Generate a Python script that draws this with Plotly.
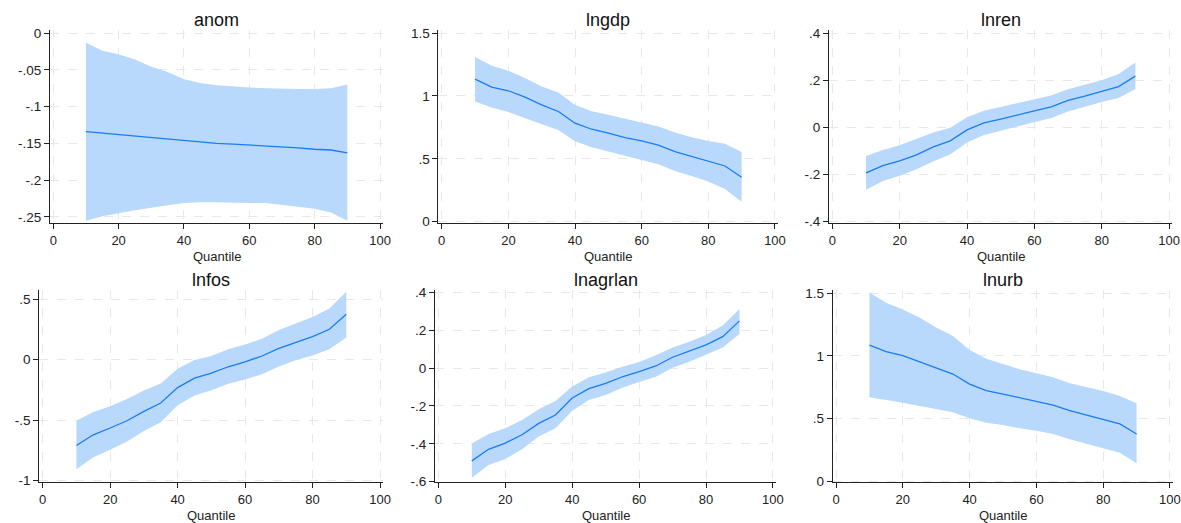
import plotly.graph_objects as go

W, H = 1181, 523

quantiles = [10, 15, 20, 25, 30, 35, 40, 45, 50, 55, 60, 65, 70, 75, 80, 85, 90]

names = ["anom", "lngdp", "lnren", "lnfos", "lnagrlan", "lnurb"]

anom_coef = [-0.134, -0.136, -0.138, -0.140, -0.142, -0.144, -0.147, -0.149, -0.150, -0.151, -0.152, -0.153, -0.155, -0.156, -0.158, -0.159, -0.163]
anom_hi = [-0.013, -0.024, -0.029, -0.036, -0.046, -0.053, -0.063, -0.068, -0.071, -0.073, -0.074, -0.075, -0.076, -0.076, -0.076, -0.075, -0.070]
anom_lo = [-0.255, -0.249, -0.245, -0.241, -0.237, -0.234, -0.231, -0.230, -0.230, -0.230, -0.231, -0.231, -0.233, -0.236, -0.239, -0.244, -0.255]

lngdp_coef = [1.134, 1.070, 1.041, 0.990, 0.929, 0.876, 0.783, 0.735, 0.704, 0.669, 0.642, 0.608, 0.558, 0.518, 0.483, 0.443, 0.353]
lngdp_hi = [1.309, 1.240, 1.200, 1.142, 1.075, 1.027, 0.927, 0.879, 0.850, 0.818, 0.788, 0.757, 0.709, 0.672, 0.642, 0.619, 0.555]
lngdp_lo = [0.956, 0.908, 0.873, 0.826, 0.775, 0.730, 0.640, 0.592, 0.558, 0.520, 0.491, 0.457, 0.404, 0.364, 0.319, 0.260, 0.159]

lnren_coef = [-0.193, -0.162, -0.142, -0.117, -0.083, -0.057, -0.011, 0.019, 0.035, 0.054, 0.070, 0.087, 0.114, 0.132, 0.152, 0.173, 0.217]
lnren_hi = [-0.121, -0.096, -0.076, -0.050, -0.022, -0.002, 0.043, 0.070, 0.086, 0.103, 0.118, 0.135, 0.162, 0.181, 0.200, 0.226, 0.275]
lnren_lo = [-0.265, -0.227, -0.205, -0.178, -0.144, -0.115, -0.064, -0.032, -0.014, 0.006, 0.023, 0.040, 0.067, 0.087, 0.107, 0.124, 0.163]

lnfos_coef = [-0.709, -0.621, -0.565, -0.505, -0.427, -0.358, -0.231, -0.153, -0.112, -0.059, -0.018, 0.030, 0.093, 0.143, 0.190, 0.251, 0.375]
lnfos_hi = [-0.505, -0.433, -0.386, -0.325, -0.256, -0.197, -0.076, -0.004, 0.030, 0.085, 0.124, 0.173, 0.245, 0.301, 0.351, 0.423, 0.561]
lnfos_lo = [-0.906, -0.806, -0.745, -0.676, -0.590, -0.518, -0.377, -0.297, -0.253, -0.200, -0.164, -0.120, -0.056, -0.006, 0.035, 0.085, 0.182]

lnagrlan_coef = [-0.490, -0.429, -0.396, -0.352, -0.292, -0.248, -0.158, -0.109, -0.081, -0.046, -0.019, 0.011, 0.057, 0.088, 0.122, 0.166, 0.249]
lnagrlan_hi = [-0.398, -0.348, -0.318, -0.274, -0.218, -0.174, -0.098, -0.049, -0.024, 0.007, 0.032, 0.067, 0.108, 0.139, 0.175, 0.224, 0.312]
lnagrlan_lo = [-0.579, -0.512, -0.480, -0.429, -0.362, -0.318, -0.225, -0.169, -0.142, -0.104, -0.074, -0.046, 0.002, 0.033, 0.072, 0.109, 0.180]

lnurb_coef = [1.087, 1.034, 1.002, 0.954, 0.901, 0.855, 0.775, 0.722, 0.695, 0.666, 0.642, 0.607, 0.562, 0.528, 0.496, 0.456, 0.376]
lnurb_hi = [1.508, 1.425, 1.372, 1.308, 1.228, 1.159, 1.047, 0.978, 0.935, 0.893, 0.861, 0.829, 0.781, 0.749, 0.719, 0.679, 0.621]
lnurb_lo = [0.669, 0.647, 0.626, 0.602, 0.575, 0.549, 0.501, 0.466, 0.448, 0.421, 0.402, 0.376, 0.333, 0.296, 0.261, 0.226, 0.141]

coefs = [anom_coef, lngdp_coef, lnren_coef, lnfos_coef, lnagrlan_coef, lnurb_coef]
his = [anom_hi, lngdp_hi, lnren_hi, lnfos_hi, lnagrlan_hi, lnurb_hi]
los = [anom_lo, lngdp_lo, lnren_lo, lnfos_lo, lnagrlan_lo, lnurb_lo]

x_ticks = [0, 20, 40, 60, 80, 100]
x_ticktext = ["0", "20", "40", "60", "80", "100"]

y_tickvals = [
    [0, -0.05, -0.1, -0.15, -0.2, -0.25],
    [0, 0.5, 1, 1.5],
    [-0.4, -0.2, 0, 0.2, 0.4],
    [-1, -0.5, 0, 0.5],
    [-0.6, -0.4, -0.2, 0, 0.2, 0.4],
    [0, 0.5, 1, 1.5],
]
y_ticktext = [
    ["0", "-.05", "-.1", "-.15", "-.2", "-.25"],
    ["0", ".5", "1", "1.5"],
    ["-.4", "-.2", "0", ".2", ".4"],
    ["-1", "-.5", "0", ".5"],
    ["-.6", "-.4", "-.2", "0", ".2", ".4"],
    ["0", ".5", "1", "1.5"],
]
y_ranges = [
    [-0.2582, 0.0041],
    [-0.0103, 1.524],
    [-0.4055, 0.4127],
    [-1.0108, 0.575],
    [-0.6016, 0.412],
    [-0.008, 1.527],
]

# panel boxes in screen pixels: (left, right, top, bottom)
boxes = [
    (50.0, 383.3, 30, 223),
    (438.4, 778.3, 30, 223),
    (829.0, 1172.4, 30, 223),
    (39.3, 383.4, 290, 482),
    (435.0, 776.3, 290, 482),
    (832.7, 1173.3, 290, 482),
]

BAND = "#b8d8fc"
LINE = "#1a7cf5"
GRID = "#e8e8e8"
AX = "#222222"
FONT = "Liberation Sans, Arial, sans-serif"


def px_x(p):
    return p / W


def px_y(p):
    return 1 - p / H


fig = go.Figure()
layout = dict(
    width=W, height=H,
    margin=dict(l=0, r=0, t=0, b=0, autoexpand=False),
    paper_bgcolor="white", plot_bgcolor="white",
    showlegend=False,
    font=dict(family=FONT, size=13, color="#222222"),
)
annotations = []

for i in range(6):
    k = "" if i == 0 else str(i + 1)
    xa, ya = "x" + k, "y" + k
    l, r, t, b = boxes[i]
    layout["xaxis" + k] = dict(
        domain=[px_x(l), px_x(r)], anchor=ya, range=[-1, 101],
        tickvals=x_ticks, ticktext=x_ticktext,
        showgrid=True, gridcolor=GRID, griddash="dash", gridwidth=1,
        showline=True, linecolor=AX, linewidth=1,
        ticks="outside", ticklen=5, tickcolor=AX, tickwidth=1,
        zeroline=False, tickfont=dict(size=13, color="#222222"),
        ticklabeloverflow="allow",
        fixedrange=True, automargin=False,
    )
    layout["yaxis" + k] = dict(
        domain=[px_y(b), px_y(t)], anchor=xa, range=y_ranges[i],
        tickvals=y_tickvals[i], ticktext=y_ticktext[i],
        showgrid=True, gridcolor=GRID, griddash="dash", gridwidth=1,
        showline=True, linecolor=AX, linewidth=1,
        ticks="outside", ticklen=5, tickcolor=AX, tickwidth=1,
        zeroline=False, tickfont=dict(size=13.5, color="#222222"),
        ticklabeloverflow="allow",
        fixedrange=True, automargin=False,
    )
    fig.add_trace(go.Scatter(
        x=quantiles + quantiles[::-1], y=his[i] + los[i][::-1],
        fill="toself", fillcolor=BAND, line=dict(width=0),
        mode="lines", hoverinfo="skip", xaxis=xa, yaxis=ya,
    ))
    fig.add_trace(go.Scatter(
        x=quantiles, y=coefs[i], mode="lines", hoverinfo="skip",
        line=dict(color=LINE, width=1.3), xaxis=xa, yaxis=ya,
    ))
    cx = px_x((l + r) / 2)
    annotations.append(dict(
        text=names[i], x=cx, y=px_y(t - 10), xref="paper", yref="paper",
        xanchor="center", yanchor="middle", showarrow=False,
        font=dict(family=FONT, size=18, color="#111111"),
    ))
    annotations.append(dict(
        text="Quantile", x=cx, y=px_y(b + 33), xref="paper", yref="paper",
        xanchor="center", yanchor="middle", showarrow=False,
        font=dict(family=FONT, size=13, color="#222222"),
    ))

layout["annotations"] = annotations
layout["hovermode"] = False
fig.update_layout(**layout)
fig.write_html(
    "out.html",
    config={"displayModeBar": False, "staticPlot": True},
    post_script="document.body.style.margin='0';document.body.style.overflow='hidden';",
)
